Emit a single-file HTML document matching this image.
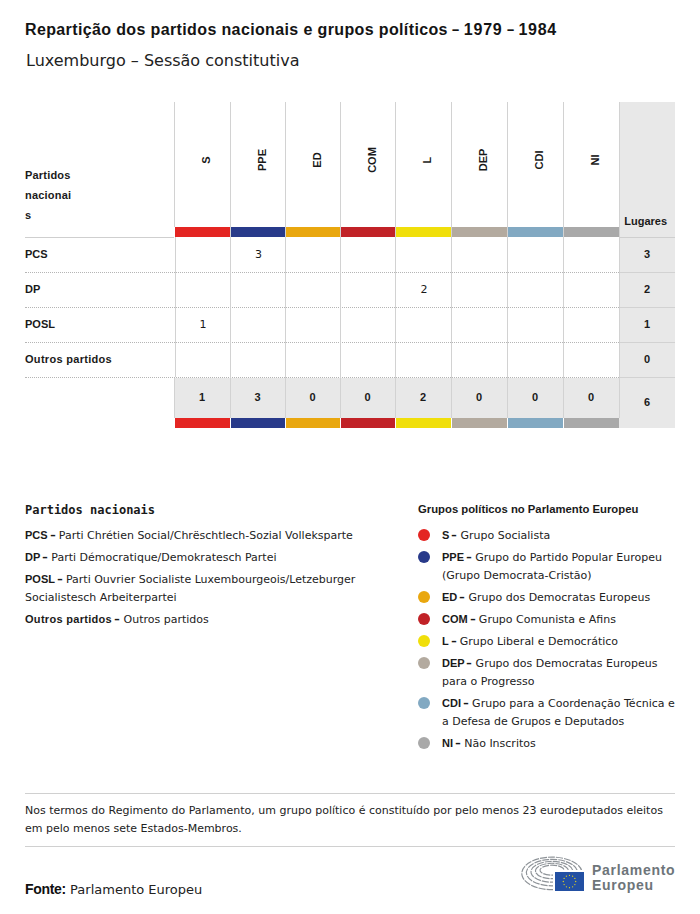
<!DOCTYPE html>
<html lang="pt">
<head>
<meta charset="utf-8">
<title>Repartição dos partidos nacionais e grupos políticos – 1979 – 1984</title>
<style>
html,body{margin:0;padding:0;background:#fff;}
body{width:700px;height:914px;position:relative;overflow:hidden;color:#1a1a1a;
 font-family:"DejaVu Sans","Liberation Sans",sans-serif;}
.b,b{font-family:"Liberation Sans",sans-serif;font-weight:700;}
.title{position:absolute;left:25px;top:21px;font:700 16px/18px "Liberation Sans",sans-serif;letter-spacing:0.37px;white-space:nowrap;color:#141414;}
.title .td{display:inline-block;letter-spacing:0;transform:scaleX(0.8);margin:0 -0.9px;}
.title .ws{word-spacing:-0.4px;}
.title .tn{letter-spacing:0.75px;}
.sub{position:absolute;left:26px;top:50.5px;font:400 16px/20px "DejaVu Sans",sans-serif;white-space:nowrap;color:#222;}
.lug{position:absolute;left:619px;top:102px;width:56px;height:326px;background:#e8e8e8;}
.tot{position:absolute;left:174px;top:378px;width:445px;height:40px;background:#e8e8e8;}
.hline{position:absolute;height:1px;background:#cfcfcf;}
.hline.lg{background:#d2d2d2;}
.dl{position:absolute;left:25px;width:650px;height:0;border-top:1px dotted #b5b5b5;}
.vl{position:absolute;top:102px;height:316px;width:1px;background:#d2d2d2;}
.hl{position:absolute;top:150px;width:80px;height:20px;line-height:20px;text-align:center;transform:rotate(-90deg);
 font:700 11px/20px "Liberation Sans",sans-serif;color:#1a1a1a;}
.bar{position:absolute;height:10px;}
.hp{position:absolute;left:25px;top:165px;font:700 11px/20px "Liberation Sans",sans-serif;color:#1a1a1a;letter-spacing:0.2px;}
.hlug{position:absolute;left:617.7px;width:56px;top:211px;text-align:center;font:700 11px/20px "Liberation Sans",sans-serif;}
.rn{position:absolute;left:25px;height:35px;line-height:35px;font:700 11px/35px "Liberation Sans",sans-serif;white-space:nowrap;}
.cv{position:absolute;height:35px;line-height:35px;text-align:center;font-size:11px;padding-left:2px;box-sizing:border-box;}
.cv.b{font-size:11px;padding-left:0;}
.lh{position:absolute;top:501px;font:700 12px/18px "DejaVu Sans Mono",monospace;}
.lh2{position:absolute;left:418px;top:500px;font:700 11.3px/18px "Liberation Sans",sans-serif;white-space:nowrap;}
.leg{position:absolute;font-size:11px;line-height:18px;color:#222;}
.leg p{margin:0 0 4px 0;white-space:nowrap;}
.leg b{color:#1a1a1a;line-height:10px;margin-right:-1.5px;}
.leg b.w{letter-spacing:0.3px;}
.leg .d{display:inline-block;transform:translateX(-1px) scale(0.8,1.35);letter-spacing:0;}
.rl{left:442px;top:527px;width:240px;}
.rl p{position:relative;}
.rl p i{position:absolute;left:-24px;top:2px;width:12px;height:12px;border-radius:50%;}
.ll{left:25px;top:527px;width:350px;}
.fn{position:absolute;left:25px;top:793px;width:650px;height:54px;border-top:1px solid #d0d0d0;border-bottom:1px solid #d0d0d0;box-sizing:border-box;}
.fn div{position:absolute;left:0;top:8px;font-size:11px;line-height:18px;color:#222;white-space:nowrap;}
.src{position:absolute;left:25px;top:880px;font-size:13px;line-height:18px;white-space:nowrap;color:#222;}
.src b{font-size:14px;letter-spacing:-0.3px;color:#111;}
.logo{position:absolute;left:515px;top:850px;width:170px;height:50px;}
.lt{position:absolute;left:592px;top:863px;font:700 14px/15px "Liberation Sans",sans-serif;letter-spacing:0.7px;color:#6e757a;}
</style>
</head>
<body>
<div class="title">Repartição dos partidos nacionais e grupos políticos<span class="ws"> <span class="td">–</span> </span><span class="tn">1979</span><span class="ws"> <span class="td">–</span> </span><span class="tn">1984</span></div>
<div class="sub">Luxemburgo – Sessão constitutiva</div>
<div class="lug"></div>
<div class="tot"></div>
<div class="hline" style="top:237px;left:25px;width:149px"></div>
<div class="hline" style="top:237px;left:619px;width:56px"></div>
<div class="dl" style="top:272px"></div>
<div class="hline lg" style="top:272px;left:619px;width:56px"></div>
<div class="dl" style="top:307px"></div>
<div class="hline lg" style="top:307px;left:619px;width:56px"></div>
<div class="dl" style="top:342px"></div>
<div class="hline lg" style="top:342px;left:619px;width:56px"></div>
<div class="dl" style="top:377px"></div>
<div class="hline lg" style="top:377px;left:619px;width:56px"></div>
<div class="vl" style="left:174px;top:102px;height:125px"></div>
<div class="vl" style="left:175px;top:237px;height:140px"></div>
<div class="vl" style="left:174px;top:378px;height:40px"></div>
<div class="vl" style="left:230px"></div>
<div class="vl" style="left:285px"></div>
<div class="vl" style="left:340px"></div>
<div class="vl" style="left:395px"></div>
<div class="vl" style="left:451px"></div>
<div class="vl" style="left:507px"></div>
<div class="vl" style="left:563px"></div>
<div class="vl" style="left:619px"></div>
<div class="hl" style="left:166.0px">S</div>
<div class="hl" style="left:221.5px">PPE</div>
<div class="hl" style="left:276.5px">ED</div>
<div class="hl" style="left:331.5px">COM</div>
<div class="hl" style="left:387.0px">L</div>
<div class="hl" style="left:443.0px">DEP</div>
<div class="hl" style="left:499.0px">CDI</div>
<div class="hl" style="left:555.0px">NI</div>
<div class="bar" style="left:175px;width:55px;top:227px;background:#e42522"></div>
<div class="bar" style="left:175px;width:55px;top:418px;background:#e42522"></div>
<div class="bar" style="left:231px;width:54px;top:227px;background:#283a8a"></div>
<div class="bar" style="left:231px;width:54px;top:418px;background:#283a8a"></div>
<div class="bar" style="left:286px;width:54px;top:227px;background:#e9a70f"></div>
<div class="bar" style="left:286px;width:54px;top:418px;background:#e9a70f"></div>
<div class="bar" style="left:341px;width:54px;top:227px;background:#c12227"></div>
<div class="bar" style="left:341px;width:54px;top:418px;background:#c12227"></div>
<div class="bar" style="left:396px;width:55px;top:227px;background:#f0df0a"></div>
<div class="bar" style="left:396px;width:55px;top:418px;background:#f0df0a"></div>
<div class="bar" style="left:452px;width:55px;top:227px;background:#b3aa9f"></div>
<div class="bar" style="left:452px;width:55px;top:418px;background:#b3aa9f"></div>
<div class="bar" style="left:508px;width:55px;top:227px;background:#82a9c2"></div>
<div class="bar" style="left:508px;width:55px;top:418px;background:#82a9c2"></div>
<div class="bar" style="left:564px;width:55px;top:227px;background:#a9a9a9"></div>
<div class="bar" style="left:564px;width:55px;top:418px;background:#a9a9a9"></div>
<div class="hp">Partidos<br>nacionai<br>s</div>
<div class="hlug">Lugares</div>
<div class="rn" style="top:237px">PCS</div>
<div class="cv" style="top:237px;left:230px;width:55px">3</div>
<div class="cv b" style="top:237px;left:619px;width:56px">3</div>
<div class="rn" style="top:272px">DP</div>
<div class="cv" style="top:272px;left:395px;width:56px">2</div>
<div class="cv b" style="top:272px;left:619px;width:56px">2</div>
<div class="rn" style="top:307px">POSL</div>
<div class="cv" style="top:307px;left:174px;width:56px">1</div>
<div class="cv b" style="top:307px;left:619px;width:56px">1</div>
<div class="rn" style="top:342px;letter-spacing:0.3px">Outros partidos</div>
<div class="cv b" style="top:342px;left:619px;width:56px">0</div>
<div class="cv b" style="top:377px;height:41px;line-height:41px;left:174px;width:56px">1</div>
<div class="cv b" style="top:377px;height:41px;line-height:41px;left:230px;width:55px">3</div>
<div class="cv b" style="top:377px;height:41px;line-height:41px;left:285px;width:55px">0</div>
<div class="cv b" style="top:377px;height:41px;line-height:41px;left:340px;width:55px">0</div>
<div class="cv b" style="top:377px;height:41px;line-height:41px;left:395px;width:56px">2</div>
<div class="cv b" style="top:377px;height:41px;line-height:41px;left:451px;width:56px">0</div>
<div class="cv b" style="top:377px;height:41px;line-height:41px;left:507px;width:56px">0</div>
<div class="cv b" style="top:377px;height:41px;line-height:41px;left:563px;width:56px">0</div>
<div class="cv b" style="top:377px;height:51px;line-height:51px;left:619px;width:56px">6</div>
<div class="lh" style="left:25px">Partidos nacionais</div>
<div class="leg ll">
<p><b>PCS <span class="d">–</span></b> Parti Chrétien Social/Chrëschtlech-Sozial Volleksparte</p>
<p><b>DP <span class="d">–</span></b> Parti Démocratique/Demokratesch Partei</p>
<p><b>POSL <span class="d">–</span></b> Parti Ouvrier Socialiste Luxembourgeois/Letzeburger<br>Socialistesch Arbeiterpartei</p>
<p><b class="w">Outros partidos <span class="d">–</span></b> Outros partidos</p>
</div>
<div class="lh2">Grupos políticos no Parlamento Europeu</div>
<div class="leg rl">
<p><i style="background:#e42522"></i><b>S <span class="d">–</span></b> Grupo Socialista</p>
<p><i style="background:#283a8a"></i><b>PPE <span class="d">–</span></b> Grupo do Partido Popular Europeu<br>(Grupo Democrata-Cristão)</p>
<p><i style="background:#e9a70f"></i><b>ED <span class="d">–</span></b> Grupo dos Democratas Europeus</p>
<p><i style="background:#c12227"></i><b>COM <span class="d">–</span></b> Grupo Comunista e Afins</p>
<p><i style="background:#f0df0a"></i><b>L <span class="d">–</span></b> Grupo Liberal e Democrático</p>
<p><i style="background:#b3aa9f"></i><b>DEP <span class="d">–</span></b> Grupo dos Democratas Europeus<br>para o Progresso</p>
<p><i style="background:#82a9c2"></i><b>CDI <span class="d">–</span></b> Grupo para a Coordenação Técnica e<br>a Defesa de Grupos e Deputados</p>
<p><i style="background:#a9a9a9"></i><b>NI <span class="d">–</span></b> Não Inscritos</p>
</div>
<div class="fn"><div>Nos termos do Regimento do Parlamento, um grupo político é constituído por pelo menos 23 eurodeputados eleitos<br>em pelo menos sete Estados-Membros.</div></div>
<div class="src"><b>Fonte:</b> Parlamento Europeu</div>
<svg class="logo" width="170" height="50" viewBox="515 850 170 50">
<g fill="none" stroke="#8e9398" stroke-width="1.15">
<path d="M581.91,871.13 A30.2,16.3 0 1 0 557.24,889.45" stroke-dasharray="7 1"/>
<path d="M577.35,870.76 A25.6,13.2 0 1 0 556.45,885.60" stroke-dasharray="7 1"/>
<path d="M572.80,870.35 A21.0,10.4 0 1 0 555.65,882.04" stroke-dasharray="7 1"/>
<path d="M568.34,869.93 A16.5,7.7 0 1 0 554.87,878.58" stroke-dasharray="7 1"/>
<path d="M563.88,869.50 A12.0,5.0 0 1 0 554.08,875.12" stroke-dasharray="7 1"/>
</g>
<rect x="553" y="870" width="33" height="23" fill="#fff"/>
<rect x="555" y="872" width="29" height="19" fill="#2350a3"/>
<circle cx="569.50" cy="875.30" r="0.65" fill="#e9d41c"/>
<circle cx="572.60" cy="876.13" r="0.65" fill="#e9d41c"/>
<circle cx="574.87" cy="878.40" r="0.65" fill="#e9d41c"/>
<circle cx="575.70" cy="881.50" r="0.65" fill="#e9d41c"/>
<circle cx="574.87" cy="884.60" r="0.65" fill="#e9d41c"/>
<circle cx="572.60" cy="886.87" r="0.65" fill="#e9d41c"/>
<circle cx="569.50" cy="887.70" r="0.65" fill="#e9d41c"/>
<circle cx="566.40" cy="886.87" r="0.65" fill="#e9d41c"/>
<circle cx="564.13" cy="884.60" r="0.65" fill="#e9d41c"/>
<circle cx="563.30" cy="881.50" r="0.65" fill="#e9d41c"/>
<circle cx="564.13" cy="878.40" r="0.65" fill="#e9d41c"/>
<circle cx="566.40" cy="876.13" r="0.65" fill="#e9d41c"/>
</svg>
<div class="lt">Parlamento<br>Europeu</div>
</body>
</html>
